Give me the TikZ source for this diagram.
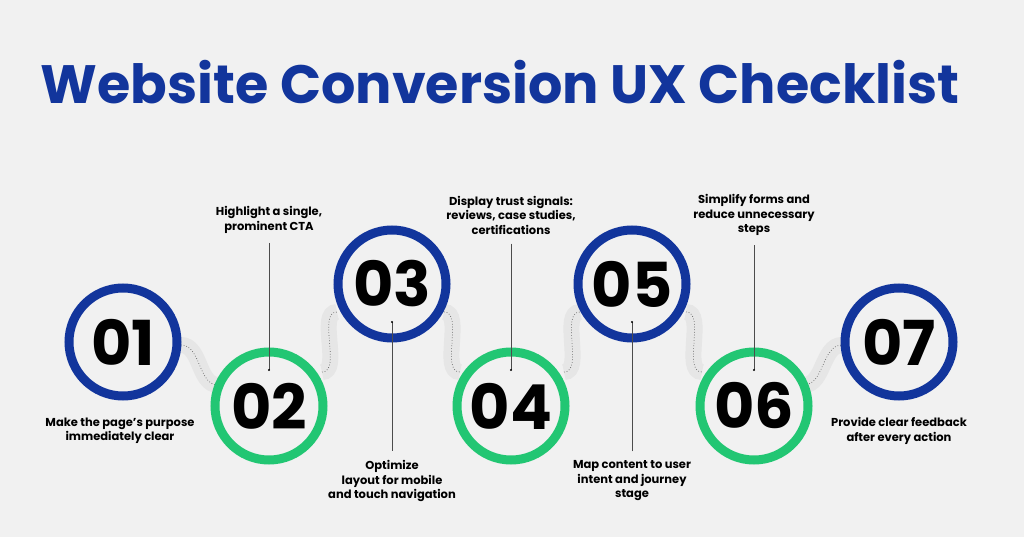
\documentclass[tikz,border=0pt]{standalone}
\usepackage{fontspec}
\setmainfont{Poppins}[UprightFont=* Bold,BoldFont=* Bold]
\definecolor{ringblue}{HTML}{12359C}
\definecolor{ringgreen}{HTML}{22C673}
\definecolor{bggray}{HTML}{F1F1F1}
\definecolor{bandgray}{HTML}{E6E6E6}
\begin{document}
\begin{tikzpicture}[x=1pt,y=-1pt,
  step node/.style={circle,draw=#1,line width=9pt,fill=bggray,minimum size=108pt,inner sep=0pt,font=\fontsize{62}{62}\selectfont},
  label text/.style={align=center,font=\fontsize{11.5}{14.5}\selectfont},
  pointer/.style={draw=black!70,line width=0.5pt},
  band/.style={draw=bandgray,line width=16pt},
  link/.style={draw=black!60,line width=0.7pt,dotted}]
\useasboundingbox (0,0) rectangle (1024,537);
\fill[bggray] (0,0) rectangle (1024,537);
\node[text=ringblue,font=\fontsize{54}{54}\selectfont] (title) at (500,82) {Website Conversion UX Checklist};

% connectors behind the circles
\foreach \a/\b/\c/\d in {181/345/218/385, 322/372/337/312, 444/312/460/372, 564/372/580/312, 686/312/702/372, 804/385/842/345}{
  \path[band] (\a,\b) .. controls (\a+20,\b) and (\c-20,\d) .. (\c,\d);
  \path[link] (\a,\b) .. controls (\a+20,\b) and (\c-20,\d) .. (\c,\d);
}

% circles
\node[step node=ringblue]  (s1) at (123,342) {01};
\node[step node=ringgreen] (s2) at (269,406) {02};
\node[step node=ringblue]  (s3) at (392,284) {03};
\node[step node=ringgreen] (s4) at (511,406) {04};
\node[step node=ringblue]  (s5) at (632,284) {05};
\node[step node=ringgreen] (s6) at (754,406) {06};
\node[step node=ringblue]  (s7) at (899,342) {07};

% labels
\node[label text] (t1) at (120,431) {Make the page’s purpose\\immediately clear};
\node[label text] (t2) at (269,220) {Highlight a single,\\prominent CTA};
\node[label text] (t3) at (392,481) {Optimize\\layout for mobile\\and touch navigation};
\node[label text] (t4) at (511,215) {Display trust signals:\\reviews, case studies,\\certifications};
\node[label text] (t5) at (632,481) {Map content to user\\intent and journey\\stage};
\node[label text] (t6) at (754,215) {Simplify forms and\\reduce unnecessary\\steps};
\node[label text] (t7) at (899,431) {Provide clear feedback\\after every action};

% pointers
\foreach \t/\s in {t2/s2,t4/s4,t6/s6}{
  \coordinate (p) at ([yshift=36pt]\s.center);
  \draw[pointer] ([yshift=-6pt]\t.south) -- (p);
  \fill (p) circle (1.2pt);
}
\foreach \t/\s in {t3/s3,t5/s5}{
  \coordinate (p) at ([yshift=-38pt]\s.center);
  \draw[pointer] ([yshift=6pt]\t.north) -- (p);
  \fill (p) circle (1.2pt);
}
\end{tikzpicture}
\end{document}
